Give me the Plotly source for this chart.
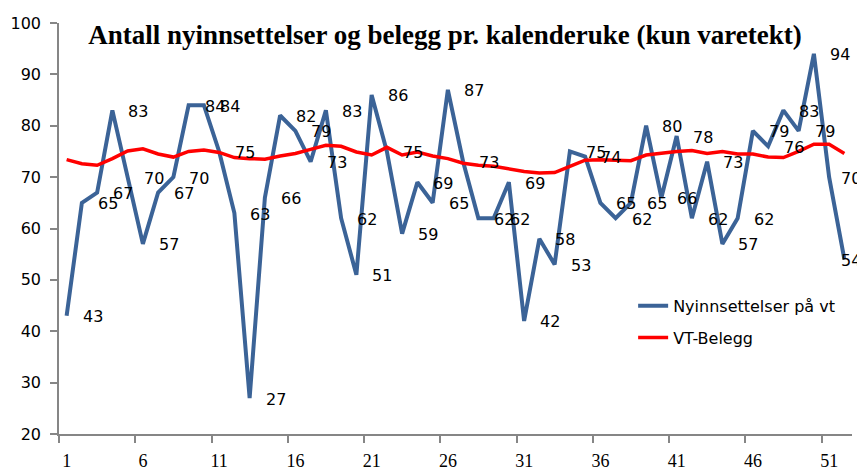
import plotly.graph_objects as go

weeks = list(range(1, 53))
nyinnsettelser = [43, 65, 67, 83, 70, 57, 67, 70, 84, 84, 75, 63, 27, 66, 82, 79, 73, 83, 62, 51,
                  86, 75, 59, 69, 65, 87, 73, 62, 62, 69, 42, 58, 53, 75, 74, 65, 62, 65, 80, 66,
                  78, 62, 73, 57, 62, 79, 76, 83, 79, 94, 70, 54]
vt_belegg = [73.4, 72.6, 72.3, 73.6, 75.1, 75.5, 74.5, 73.9, 75.0, 75.3, 74.8, 73.8, 73.6, 73.5,
             74.1, 74.6, 75.4, 76.2, 76.0, 74.9, 74.3, 75.8, 74.3, 74.9, 74.1, 73.6, 72.7, 72.3,
             72.1, 71.6, 71.1, 70.8, 70.9, 72.1, 73.3, 73.4, 73.3, 73.2, 74.3, 74.7, 75.0, 75.2,
             74.6, 75.0, 74.5, 74.5, 73.9, 73.8, 75.0, 76.4, 76.4, 74.6]
x_tick_labels = [str(w) for w in range(1, 53, 5)]
title_text = "Antall nyinnsettelser og belegg pr. kalenderuke (kun varetekt)"

# the page body has an 8px default margin, so the figure is sized to fill the rest
W, H = 857, 463

fig = go.Figure()
fig.add_trace(go.Scatter(x=weeks, y=nyinnsettelser, mode="lines", name="Nyinnsettelser på vt",
                         line=dict(color="#3B6397", width=4), legendgroup="a"))
fig.add_trace(go.Scatter(x=weeks, y=vt_belegg, mode="lines", name="VT-Belegg",
                         line=dict(color="#FF0000", width=3.5), legendgroup="b"))

shifts = [26] * (len(weeks) - 2) + [22, 7]
for w, v, s in zip(weeks, nyinnsettelser, shifts):
    fig.add_annotation(x=w, y=v, text=str(v), showarrow=False, xshift=s, yshift=-1,
                       font=dict(family="DejaVu Sans", size=16, color="black"))

fig.update_layout(
    width=W, height=H,
    margin=dict(l=51, r=13, t=15, b=37),
    paper_bgcolor="white", plot_bgcolor="white",
    title=dict(text="<b>" + title_text + "</b>", x=437 / W, xanchor="center",
               y=1 - 27 / H, yanchor="middle",
               font=dict(family="Liberation Serif", size=27, color="black")),
    legend=dict(x=0.724, y=0.353, xanchor="left", yanchor="top", bgcolor="rgba(0,0,0,0)",
                font=dict(family="DejaVu Sans", size=16, color="black"),
                traceorder="grouped", tracegroupgap=8),
    showlegend=True,
)
fig.update_xaxes(range=[0.5, 52.5], tickmode="array", tickvals=list(range(1, 53, 5)),
                 ticktext=x_tick_labels, ticks="", showgrid=False, zeroline=False,
                 showline=True, linecolor="#868686", linewidth=1.5, automargin=False,
                 tickfont=dict(family="Liberation Serif", size=18, color="black"),
                 ticklabelstandoff=10,
                 minor=dict(tickmode="array", tickvals=[0.5 + 5 * k for k in range(11)],
                            ticks="outside", ticklen=7, tickcolor="#868686", tickwidth=1.5,
                            showgrid=False))
fig.update_yaxes(range=[20, 100], dtick=10, ticks="outside", ticklen=7, tickcolor="#868686",
                 tickwidth=1.5, showgrid=False, zeroline=False, showline=True, automargin=False,
                 linecolor="#868686", linewidth=1.5, ticklabelstandoff=6,
                 tickfont=dict(family="DejaVu Sans", size=16, color="black"))

fig.write_html("out.html")
